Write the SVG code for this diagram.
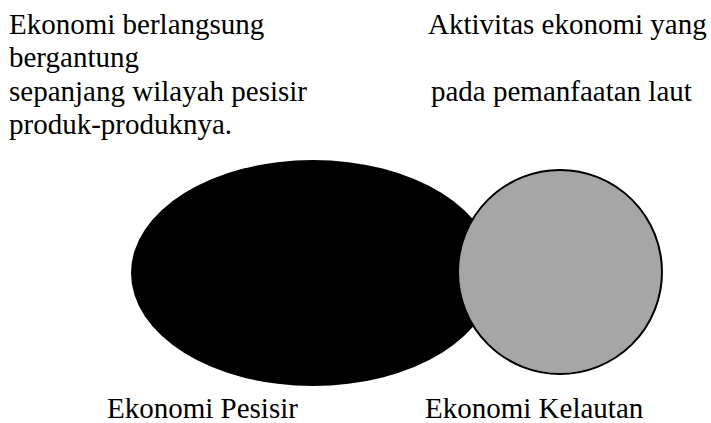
<svg xmlns="http://www.w3.org/2000/svg" width="711" height="423" viewBox="0 0 711 423">
<style>
text{font-family:"Liberation Serif","Times New Roman",serif;font-size:29px;fill:#000}
</style>
<rect width="711" height="423" fill="#fff"/>
<g id="desc-left">
<text x="9" y="34">Ekonomi berlangsung</text>
<text x="9" y="67">bergantung</text>
<text x="9" y="101">sepanjang wilayah pesisir</text>
<text x="9" y="134">produk-produknya.</text>
</g>
<g id="desc-right">
<text x="428" y="34">Aktivitas ekonomi yang</text>
<text x="431" y="101">pada pemanfaatan laut</text>
</g>
<g id="ekonomi-pesisir">
<ellipse cx="313" cy="273" rx="182" ry="113" fill="#000"/>
<text x="107" y="418">Ekonomi Pesisir</text>
</g>
<g id="ekonomi-kelautan">
<circle cx="560" cy="272" r="102" fill="#a6a6a6" stroke="#000" stroke-width="2"/>
<text x="425" y="418">Ekonomi Kelautan</text>
</g>
<g id="connectors"></g>
</svg>
